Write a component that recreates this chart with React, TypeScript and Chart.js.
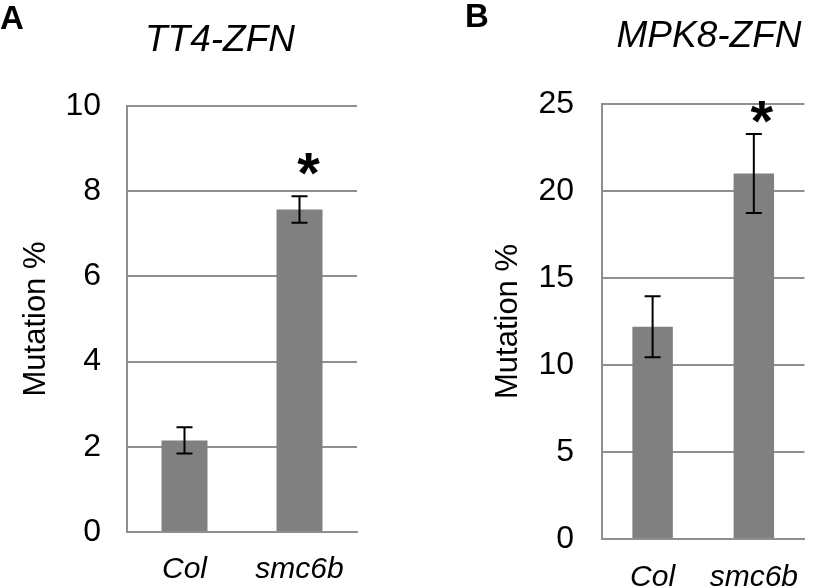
import React, { useEffect, useRef } from "react";
import { Chart, registerables } from "chart.js";

Chart.register(...registerables);

// ---- data ----
const categories = ["Col", "smc6b"];

const tt4Title = "TT4-ZFN";
const tt4Values = [2.15, 7.57];
const tt4Errors = [0.31, 0.31];
const tt4Significance = [null, 8.75];
const tt4Max = 10;
const tt4Step = 2;

const mpk8Title = "MPK8-ZFN";
const mpk8Values = [12.2, 21.0];
const mpk8Errors = [1.75, 2.27];
const mpk8Significance = [null, 24.8];
const mpk8Max = 25;
const mpk8Step = 5;

const yAxisLabel = "Mutation %";

const FONT = "'Liberation Sans', Arial, Helvetica, sans-serif";
const GRID = "#8f8f8f";
const BAR = "#808080";

const overlayPlugin = {
  id: "overlay",
  afterDatasetsDraw(chart: any, _args: any, opts: any) {
    const ctx = chart.ctx;
    const xs = chart.scales.x;
    const ys = chart.scales.y;
    ctx.save();
    // error bars
    ctx.strokeStyle = "#000";
    ctx.lineWidth = 2;
    (opts.values as number[]).forEach((v, i) => {
      const e = opts.errors[i];
      const px = xs.getPixelForValue(i);
      const top = ys.getPixelForValue(v + e);
      const bot = ys.getPixelForValue(v - e);
      ctx.beginPath();
      ctx.moveTo(px, top);
      ctx.lineTo(px, bot);
      ctx.moveTo(px - 8, top);
      ctx.lineTo(px + 8, top);
      ctx.moveTo(px - 8, bot);
      ctx.lineTo(px + 8, bot);
      ctx.stroke();
    });
    // significance stars
    ctx.fillStyle = "#000";
    ctx.textAlign = "center";
    ctx.textBaseline = "alphabetic";
    const starSize = 58;
    ctx.font = `bold ${starSize}px ${FONT}`;
    (opts.sig as (number | null)[]).forEach((s, i) => {
      if (s == null) return;
      const px = xs.getPixelForValue(i) + opts.starDx;
      const py = ys.getPixelForValue(s) + starSize * 0.58;
      ctx.fillText("*", px, py);
    });
    // panel letter
    ctx.textAlign = "left";
    ctx.font = `bold 33px ${FONT}`;
    ctx.fillText(opts.letter, opts.letterX, opts.letterY);
    // title
    ctx.textAlign = "center";
    ctx.font = `italic 37px ${FONT}`;
    ctx.fillText(opts.title, opts.titleX, opts.titleY);
    ctx.restore();
  },
};

function makeChart(canvas: HTMLCanvasElement, cfg: any) {
  return new Chart(canvas, {
    type: "bar",
    data: {
      labels: categories,
      datasets: [
        {
          data: cfg.values,
          backgroundColor: BAR,
          borderWidth: 0,
          barPercentage: 0.4,
          categoryPercentage: 1,
        },
      ],
    },
    options: {
      responsive: false,
      animation: false,
      layout: { padding: cfg.padding },
      plugins: {
        legend: { display: false },
        tooltip: { enabled: false },
        title: { display: false },
        overlay: {
          values: cfg.values,
          errors: cfg.errors,
          sig: cfg.sig,
          starDx: cfg.starDx,
          letter: cfg.letter,
          letterX: cfg.letterX,
          letterY: cfg.letterY,
          title: cfg.title,
          titleX: cfg.titleX,
          titleY: cfg.titleY,
        },
      } as any,
      scales: {
        x: {
          grid: { display: false, drawTicks: false },
          border: { display: true, color: GRID, width: 2 },
          ticks: {
            color: "#000",
            padding: cfg.xPad,
            font: { family: FONT, size: 30, style: "italic" },
          },
          afterFit: (s: any) => {
            s.height = cfg.xHeight;
          },
        },
        y: {
          min: 0,
          max: cfg.max,
          ticks: {
            stepSize: cfg.step,
            color: "#000",
            padding: cfg.yPad,
            font: { family: FONT, size: 32 },
          },
          grid: { color: GRID, lineWidth: 2, drawTicks: false },
          border: { display: true, color: GRID, width: 2 },
          title: {
            display: true,
            text: yAxisLabel,
            color: "#000",
            font: { family: FONT, size: 31 },
            padding: { top: cfg.titlePad, bottom: 0 },
          },
          afterFit: (s: any) => {
            s.width = cfg.yWidth;
          },
        },
      },
    },
    plugins: [overlayPlugin],
  });
}

export default function App() {
  const refA = useRef<HTMLCanvasElement>(null);
  const refB = useRef<HTMLCanvasElement>(null);

  useEffect(() => {
    const a = makeChart(refA.current!, {
      values: tt4Values,
      errors: tt4Errors,
      sig: tt4Significance,
      max: tt4Max,
      step: tt4Step,
      padding: { top: 106, right: 43, bottom: 0, left: 0 },
      yWidth: 127,
      xHeight: 56,
      xPad: 20,
      yPad: 26,
      titlePad: 18,
      starDx: 9,
      letter: "A",
      letterX: 0,
      letterY: 29,
      title: tt4Title,
      titleX: 220,
      titleY: 51,
    });
    const b = makeChart(refB.current!, {
      values: mpk8Values,
      errors: mpk8Errors,
      sig: mpk8Significance,
      max: mpk8Max,
      step: mpk8Step,
      padding: { top: 104, right: 0, bottom: 0, left: 0 },
      yWidth: 162,
      xHeight: 49,
      xPad: 21,
      yPad: 28,
      titlePad: 50,
      starDx: 8,
      letter: "B",
      letterX: 25,
      letterY: 27,
      title: mpk8Title,
      titleX: 269,
      titleY: 47,
    });
    return () => {
      a.destroy();
      b.destroy();
    };
  }, []);

  return (
    <div
      style={{
        position: "absolute",
        left: 0,
        top: 0,
        width: 819,
        height: 588,
        background: "#fff",
        overflow: "hidden",
      }}
    >
      <canvas
        ref={refA}
        width={400}
        height={588}
        style={{ position: "absolute", left: 0, top: 0, width: 400, height: 588 }}
      />
      <canvas
        ref={refB}
        width={379}
        height={588}
        style={{ position: "absolute", left: 440, top: 0, width: 379, height: 588 }}
      />
    </div>
  );
}
